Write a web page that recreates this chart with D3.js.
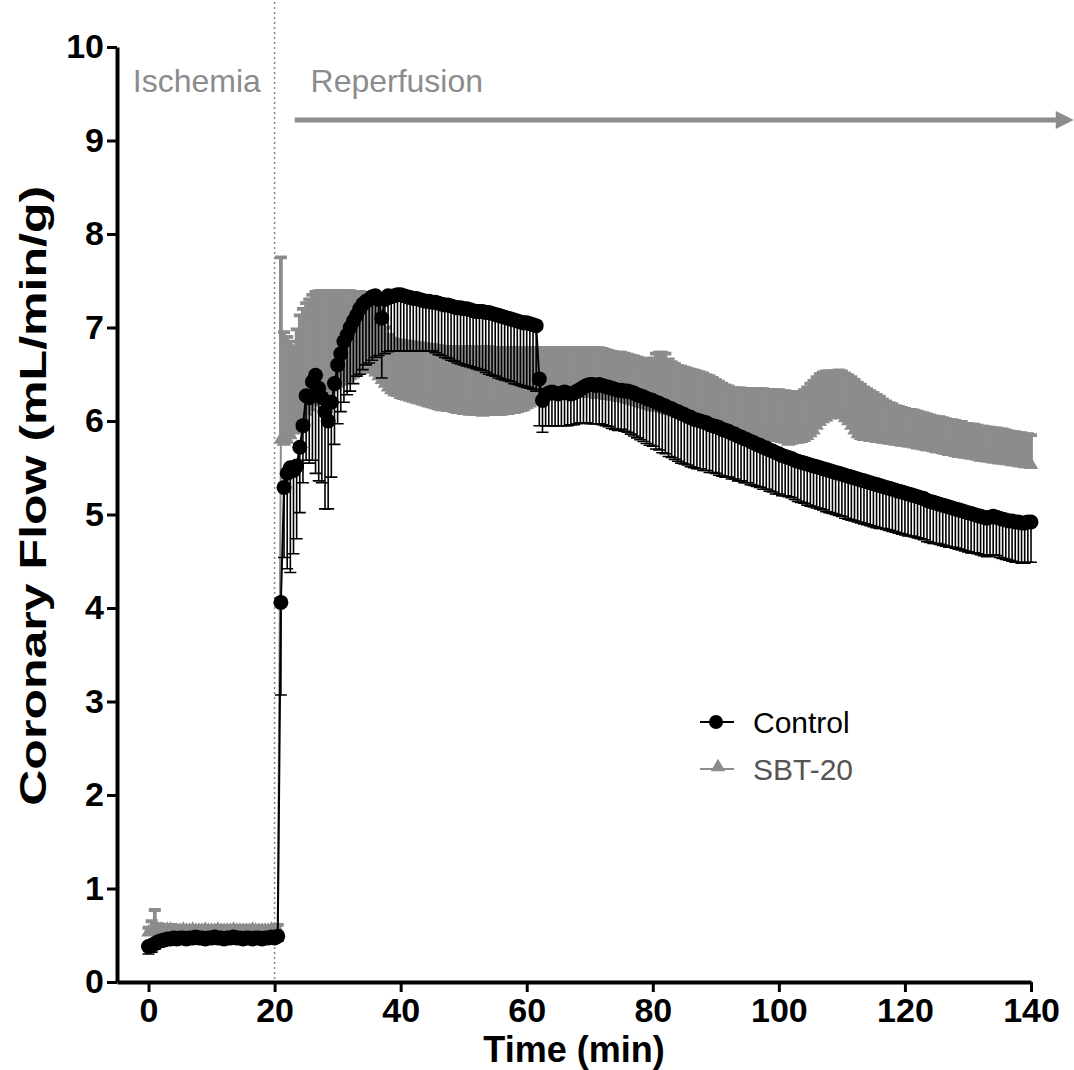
<!DOCTYPE html>
<html>
<head>
<meta charset="utf-8">
<script src="https://cdn.jsdelivr.net/npm/d3@7"></script>
<style>
  body { margin: 0; background: #fff; }
  svg { display: block; }
</style>
</head>
<body>
<svg id="chart" width="1074" height="1070"></svg>
<script>
// samples every 30 s, first one at t = 0
const T_START = 0;
const T_STEP = 0.5;

const xTicks = [0, 20, 40, 60, 80, 100, 120, 140];
const yTicks = [0, 1, 2, 3, 4, 5, 6, 7, 8, 9, 10];
const seriesNames = ['Control', 'SBT-20'];
const phaseLabels = ['Ischemia', 'Reperfusion'];
const reperfusionStart = 20;

// Control: mean and SEM (bars drawn downwards)
const ctrlMean = [
  0.38, 0.39, 0.41, 0.43, 0.44, 0.45, 0.46, 0.46, 0.47, 0.46,
  0.47, 0.47, 0.46, 0.47, 0.47, 0.48, 0.47, 0.47, 0.46, 0.47,
  0.47, 0.48, 0.47, 0.47, 0.46, 0.47, 0.47, 0.48, 0.47, 0.47,
  0.46, 0.47, 0.47, 0.46, 0.47, 0.47, 0.46, 0.47, 0.47, 0.48,
  0.47, 0.49, 4.06, 5.29, 5.44, 5.50, 5.47, 5.52, 5.72, 5.95,
  6.27, 6.25, 6.42, 6.49, 6.35, 6.25, 6.10, 6.00, 6.20, 6.40,
  6.60, 6.72, 6.85, 6.92, 7.00, 7.07, 7.13, 7.20, 7.25, 7.28,
  7.30, 7.33, 7.34, 7.30, 7.10, 7.30, 7.34, 7.33, 7.34, 7.35,
  7.35, 7.34, 7.33, 7.32, 7.31, 7.31, 7.30, 7.29, 7.28, 7.28,
  7.27, 7.27, 7.26, 7.25, 7.24, 7.24, 7.23, 7.22, 7.21, 7.21,
  7.20, 7.20, 7.19, 7.18, 7.17, 7.17, 7.17, 7.16, 7.16, 7.15,
  7.14, 7.13, 7.12, 7.11, 7.10, 7.09, 7.08, 7.07, 7.06, 7.05,
  7.05, 7.04, 7.03, 7.02, 6.45, 6.22, 6.28, 6.30, 6.31, 6.30,
  6.29, 6.30, 6.31, 6.30, 6.29, 6.30, 6.32, 6.34, 6.36, 6.38,
  6.39, 6.39, 6.38, 6.39, 6.38, 6.37, 6.36, 6.35, 6.34, 6.33,
  6.33, 6.32, 6.32, 6.31, 6.30, 6.28, 6.27, 6.26, 6.24, 6.23,
  6.22, 6.20, 6.19, 6.17, 6.16, 6.14, 6.13, 6.11, 6.10, 6.08,
  6.07, 6.05, 6.04, 6.02, 6.01, 6.00, 5.99, 5.98, 5.96, 5.95,
  5.94, 5.93, 5.91, 5.90, 5.89, 5.87, 5.86, 5.84, 5.83, 5.81,
  5.80, 5.78, 5.77, 5.75, 5.74, 5.72, 5.71, 5.69, 5.68, 5.66,
  5.65, 5.63, 5.62, 5.61, 5.60, 5.58, 5.57, 5.56, 5.55, 5.54,
  5.53, 5.52, 5.51, 5.50, 5.49, 5.48, 5.47, 5.46, 5.45, 5.44,
  5.43, 5.42, 5.41, 5.40, 5.39, 5.38, 5.37, 5.36, 5.35, 5.34,
  5.33, 5.32, 5.31, 5.30, 5.29, 5.28, 5.27, 5.26, 5.25, 5.24,
  5.23, 5.22, 5.21, 5.20, 5.19, 5.18, 5.17, 5.15, 5.14, 5.13,
  5.12, 5.11, 5.10, 5.09, 5.08, 5.07, 5.06, 5.05, 5.04, 5.03,
  5.02, 5.01, 5.00, 4.99, 4.98, 4.97, 4.96, 4.97, 4.98, 4.97,
  4.96, 4.95, 4.94, 4.93, 4.93, 4.92, 4.92, 4.91, 4.91, 4.92,
  4.92
];
const ctrlSem = [
  0.08, 0.07, 0.06, 0.05, 0.05, 0.04, 0.04, 0.04, 0.04, 0.04,
  0.04, 0.04, 0.04, 0.04, 0.04, 0.04, 0.04, 0.04, 0.04, 0.04,
  0.04, 0.04, 0.04, 0.04, 0.04, 0.04, 0.04, 0.04, 0.04, 0.04,
  0.04, 0.04, 0.04, 0.04, 0.04, 0.04, 0.04, 0.04, 0.04, 0.04,
  0.04, 0.05, 0.99, 0.75, 1.02, 1.12, 0.89, 0.78, 0.70, 0.61,
  0.69, 0.70, 0.84, 1.05, 0.99, 0.91, 1.04, 0.94, 0.80, 0.65,
  0.63, 0.62, 0.65, 0.64, 0.68, 0.67, 0.65, 0.70, 0.70, 0.68,
  0.68, 0.68, 0.66, 0.60, 0.64, 0.58, 0.60, 0.58, 0.59, 0.60,
  0.60, 0.59, 0.58, 0.57, 0.56, 0.56, 0.55, 0.54, 0.53, 0.53,
  0.52, 0.54, 0.55, 0.55, 0.56, 0.57, 0.58, 0.58, 0.59, 0.60,
  0.60, 0.61, 0.61, 0.61, 0.61, 0.62, 0.63, 0.64, 0.66, 0.66,
  0.66, 0.67, 0.67, 0.67, 0.67, 0.67, 0.68, 0.68, 0.68, 0.68,
  0.69, 0.69, 0.69, 0.70, 0.50, 0.34, 0.33, 0.35, 0.36, 0.35,
  0.34, 0.35, 0.36, 0.35, 0.33, 0.34, 0.35, 0.36, 0.38, 0.40,
  0.42, 0.42, 0.41, 0.42, 0.42, 0.42, 0.42, 0.43, 0.43, 0.43,
  0.42, 0.43, 0.44, 0.45, 0.46, 0.46, 0.47, 0.48, 0.48, 0.49,
  0.49, 0.50, 0.50, 0.51, 0.51, 0.52, 0.52, 0.52, 0.53, 0.53,
  0.53, 0.52, 0.53, 0.52, 0.52, 0.51, 0.52, 0.51, 0.51, 0.50,
  0.50, 0.51, 0.50, 0.50, 0.49, 0.49, 0.48, 0.48, 0.47, 0.47,
  0.46, 0.46, 0.46, 0.45, 0.45, 0.45, 0.44, 0.44, 0.44, 0.44,
  0.43, 0.43, 0.42, 0.42, 0.42, 0.42, 0.43, 0.43, 0.43, 0.44,
  0.44, 0.44, 0.44, 0.44, 0.44, 0.45, 0.45, 0.45, 0.45, 0.45,
  0.45, 0.46, 0.46, 0.46, 0.46, 0.46, 0.46, 0.46, 0.46, 0.46,
  0.46, 0.46, 0.46, 0.45, 0.45, 0.45, 0.45, 0.45, 0.45, 0.45,
  0.45, 0.45, 0.44, 0.44, 0.44, 0.44, 0.44, 0.44, 0.44, 0.44,
  0.43, 0.43, 0.43, 0.43, 0.43, 0.42, 0.42, 0.42, 0.42, 0.42,
  0.42, 0.42, 0.41, 0.41, 0.41, 0.41, 0.41, 0.41, 0.41, 0.41,
  0.42, 0.42, 0.42, 0.42, 0.43, 0.43, 0.43, 0.43, 0.43, 0.43,
  0.43
];

// SBT-20: mean and SEM (bars drawn upwards)
const sbtMean = [
  0.53, 0.55, 0.57, 0.56, 0.56, 0.55, 0.56, 0.56, 0.55, 0.55,
  0.55, 0.56, 0.55, 0.55, 0.56, 0.55, 0.55, 0.55, 0.56, 0.55,
  0.55, 0.55, 0.56, 0.55, 0.55, 0.55, 0.55, 0.56, 0.55, 0.55,
  0.55, 0.55, 0.55, 0.56, 0.55, 0.55, 0.55, 0.55, 0.55, 0.56,
  0.55, 0.56, 5.80, 5.78, 5.80, 5.85, 5.90, 5.95, 6.00, 6.05,
  6.10, 6.15, 6.20, 6.25, 6.28, 6.30, 6.32, 6.34, 6.36, 6.38,
  6.40, 6.42, 6.44, 6.46, 6.48, 6.50, 6.52, 6.54, 6.55, 6.56,
  6.56, 6.55, 6.52, 6.48, 6.44, 6.40, 6.36, 6.33, 6.31, 6.30,
  6.28, 6.27, 6.26, 6.25, 6.24, 6.23, 6.22, 6.21, 6.20, 6.19,
  6.18, 6.17, 6.16, 6.15, 6.15, 6.14, 6.14, 6.13, 6.12, 6.12,
  6.11, 6.11, 6.10, 6.10, 6.10, 6.10, 6.09, 6.10, 6.10, 6.10,
  6.10, 6.10, 6.10, 6.11, 6.11, 6.12, 6.12, 6.13, 6.14, 6.15,
  6.17, 6.19, 6.21, 6.23, 6.24, 6.25, 6.26, 6.26, 6.27, 6.27,
  6.27, 6.28, 6.28, 6.28, 6.29, 6.29, 6.29, 6.29, 6.29, 6.29,
  6.29, 6.29, 6.28, 6.28, 6.28, 6.27, 6.27, 6.26, 6.26, 6.25,
  6.25, 6.24, 6.23, 6.22, 6.21, 6.20, 6.19, 6.18, 6.17, 6.16,
  6.15, 6.14, 6.14, 6.13, 6.12, 6.11, 6.11, 6.10, 6.09, 6.08,
  6.07, 6.06, 6.05, 6.04, 6.03, 6.02, 6.01, 6.00, 5.99, 5.98,
  5.97, 5.96, 5.95, 5.94, 5.93, 5.92, 5.91, 5.90, 5.89, 5.88,
  5.88, 5.87, 5.86, 5.85, 5.84, 5.84, 5.83, 5.83, 5.82, 5.82,
  5.82, 5.81, 5.80, 5.78, 5.79, 5.80, 5.80, 5.81, 5.82, 5.84,
  5.87, 5.90, 5.95, 5.99, 6.02, 6.04, 6.06, 6.07, 6.07, 6.07,
  6.06, 6.03, 6.00, 5.95, 5.90, 5.86, 5.84, 5.83, 5.83, 5.82,
  5.82, 5.81, 5.81, 5.80, 5.80, 5.79, 5.79, 5.78, 5.78, 5.77,
  5.77, 5.76, 5.76, 5.75, 5.74, 5.74, 5.73, 5.72, 5.72, 5.71,
  5.70, 5.70, 5.69, 5.68, 5.67, 5.67, 5.66, 5.65, 5.65, 5.64,
  5.64, 5.63, 5.63, 5.62, 5.61, 5.61, 5.60, 5.60, 5.59, 5.59,
  5.58, 5.58, 5.57, 5.57, 5.56, 5.56, 5.55, 5.55, 5.54, 5.54,
  5.53
];
const sbtSem = [
  0.05, 0.10, 0.20, 0.06, 0.05, 0.05, 0.04, 0.05, 0.05, 0.05,
  0.05, 0.04, 0.05, 0.05, 0.04, 0.05, 0.05, 0.05, 0.04, 0.05,
  0.05, 0.05, 0.04, 0.05, 0.05, 0.05, 0.05, 0.04, 0.05, 0.05,
  0.05, 0.05, 0.05, 0.04, 0.05, 0.05, 0.05, 0.05, 0.05, 0.04,
  0.05, 0.05, 1.95, 1.17, 1.10, 1.00, 0.90, 1.03, 1.13, 1.15,
  1.16, 1.15, 1.15, 1.13, 1.11, 1.09, 1.07, 1.05, 1.03, 1.01,
  0.99, 0.97, 0.95, 0.93, 0.91, 0.88, 0.86, 0.84, 0.82, 0.80,
  0.78, 0.76, 0.76, 0.72, 0.66, 0.60, 0.56, 0.55, 0.56, 0.56,
  0.58, 0.58, 0.59, 0.59, 0.60, 0.60, 0.61, 0.61, 0.62, 0.62,
  0.63, 0.63, 0.64, 0.64, 0.64, 0.65, 0.65, 0.66, 0.67, 0.67,
  0.68, 0.68, 0.69, 0.69, 0.69, 0.69, 0.70, 0.69, 0.69, 0.68,
  0.68, 0.68, 0.68, 0.67, 0.67, 0.66, 0.66, 0.65, 0.64, 0.63,
  0.61, 0.59, 0.57, 0.55, 0.54, 0.53, 0.52, 0.52, 0.51, 0.51,
  0.51, 0.50, 0.50, 0.50, 0.49, 0.49, 0.49, 0.49, 0.49, 0.49,
  0.49, 0.49, 0.50, 0.50, 0.49, 0.49, 0.48, 0.48, 0.47, 0.48,
  0.48, 0.48, 0.48, 0.48, 0.48, 0.48, 0.48, 0.48, 0.48, 0.49,
  0.52, 0.58, 0.59, 0.60, 0.60, 0.55, 0.52, 0.51, 0.50, 0.50,
  0.50, 0.50, 0.50, 0.50, 0.50, 0.50, 0.50, 0.49, 0.49, 0.48,
  0.47, 0.46, 0.45, 0.44, 0.44, 0.43, 0.44, 0.45, 0.46, 0.46,
  0.46, 0.47, 0.48, 0.49, 0.50, 0.50, 0.50, 0.50, 0.51, 0.51,
  0.51, 0.51, 0.52, 0.53, 0.52, 0.50, 0.50, 0.50, 0.51, 0.52,
  0.53, 0.53, 0.52, 0.51, 0.50, 0.49, 0.47, 0.46, 0.46, 0.47,
  0.47, 0.48, 0.49, 0.52, 0.54, 0.55, 0.55, 0.53, 0.51, 0.50,
  0.48, 0.47, 0.45, 0.43, 0.41, 0.40, 0.39, 0.38, 0.37, 0.37,
  0.36, 0.36, 0.36, 0.36, 0.36, 0.35, 0.35, 0.35, 0.34, 0.34,
  0.34, 0.34, 0.34, 0.34, 0.34, 0.34, 0.34, 0.34, 0.34, 0.33,
  0.33, 0.33, 0.33, 0.33, 0.33, 0.33, 0.33, 0.33, 0.33, 0.33,
  0.33, 0.33, 0.33, 0.32, 0.32, 0.32, 0.32, 0.32, 0.32, 0.32,
  0.32
];

const GREY = '#8c8c8c';
const FONT = '"Liberation Sans", Arial, sans-serif';

const svg = d3.select('#chart');
svg.append('rect').attr('width', 1074).attr('height', 1070).attr('fill', '#fff');

const x = d3.scaleLinear().domain([-5, 140]).range([117, 1031]);
const y = d3.scaleLinear().domain([0, 10]).range([982, 47]);

const toPoints = (means, sems) =>
  means.map((m, i) => ({ t: T_START + i * T_STEP, m, e: sems[i] }));

const ctrl = toPoints(ctrlMean, ctrlSem);
const sbt = toPoints(sbtMean, sbtSem);

// error bar: stem from mean to mean +/- sem, with a cap
const capW = 6;
const barPath = dir => d => {
  const x0 = x(d.t);
  const y0 = y(d.m);
  const y1 = y(d.m + dir * d.e);
  return `M${x0},${y0}V${y1}M${x0 - capW},${y1}H${x0 + capW}`;
};

const line = d3.line().x(d => x(d.t)).y(d => y(d.m));

// reperfusion marker
svg.append('line')
  .attr('x1', x(reperfusionStart))
  .attr('x2', x(reperfusionStart))
  .attr('y1', 2)
  .attr('y2', y(0))
  .attr('stroke', '#888')
  .attr('stroke-width', 1.5)
  .attr('stroke-dasharray', '2,3');

// SBT-20 (drawn first, sits behind control)
const gSbt = svg.append('g');
gSbt.selectAll('path.err')
  .data(sbt)
  .enter()
  .append('path')
  .attr('class', 'err')
  .attr('d', barPath(1))
  .attr('fill', 'none')
  .attr('stroke', GREY)
  .attr('stroke-width', 3.8);
gSbt.append('path')
  .datum(sbt)
  .attr('d', line)
  .attr('fill', 'none')
  .attr('stroke', GREY)
  .attr('stroke-width', 2);
gSbt.selectAll('path.tri')
  .data(sbt)
  .enter()
  .append('path')
  .attr('class', 'tri')
  .attr('d', d3.symbol(d3.symbolTriangle).size(90))
  .attr('transform', d => `translate(${x(d.t)},${y(d.m)})`)
  .attr('fill', GREY);

// Control
const gCtrl = svg.append('g');
gCtrl.selectAll('path.err')
  .data(ctrl)
  .enter()
  .append('path')
  .attr('class', 'err')
  .attr('d', barPath(-1))
  .attr('fill', 'none')
  .attr('stroke', '#000')
  .attr('stroke-width', 1.6);
gCtrl.append('path')
  .datum(ctrl)
  .attr('d', line)
  .attr('fill', 'none')
  .attr('stroke', '#000')
  .attr('stroke-width', 2);
gCtrl.selectAll('circle')
  .data(ctrl)
  .enter()
  .append('circle')
  .attr('cx', d => x(d.t))
  .attr('cy', d => y(d.m))
  .attr('r', 7.5)
  .attr('fill', '#000');

// axes
const yAxis = svg.append('g')
  .attr('transform', `translate(${x(-5)},0)`)
  .call(d3.axisLeft(y).tickValues(yTicks).tickSize(10).tickSizeOuter(0).tickPadding(3));
const xAxis = svg.append('g')
  .attr('transform', `translate(0,${y(0)})`)
  .call(d3.axisBottom(x).tickValues(xTicks).tickSize(10).tickSizeOuter(0).tickPadding(6));

[yAxis, xAxis].forEach(ax => {
  ax.select('.domain').attr('stroke', '#000').attr('stroke-width', 4);
  ax.selectAll('.tick line').attr('stroke', '#000').attr('stroke-width', 3);
  ax.selectAll('.tick text')
    .attr('fill', '#000')
    .style('font-family', FONT)
    .style('font-weight', 'bold')
    .style('font-size', '34px');
});

svg.append('text')
  .attr('x', (x(-5) + x(140)) / 2)
  .attr('y', 1062)
  .attr('text-anchor', 'middle')
  .style('font-family', FONT)
  .style('font-weight', 'bold')
  .style('font-size', '36px')
  .text('Time (min)');

svg.append('text')
  .attr('transform', `translate(46,${y(5.2)}) rotate(-90)`)
  .attr('text-anchor', 'middle')
  .style('font-family', FONT)
  .style('font-weight', 'bold')
  .style('font-size', '36px')
  .attr('textLength', 620)
  .attr('lengthAdjust', 'spacingAndGlyphs')
  .text('Coronary Flow (mL/min/g)');

// phase labels
svg.append('text')
  .attr('x', x(-2.5))
  .attr('y', y(9.52))
  .attr('fill', GREY)
  .style('font-family', FONT)
  .style('font-size', '32px')
  .text(phaseLabels[0]);
svg.append('text')
  .attr('x', x(25.7))
  .attr('y', y(9.52))
  .attr('fill', GREY)
  .style('font-family', FONT)
  .style('font-size', '32px')
  .text(phaseLabels[1]);

// reperfusion arrow
svg.append('defs')
  .append('marker')
  .attr('id', 'arrow')
  .attr('viewBox', '0 0 10 10')
  .attr('refX', 2)
  .attr('refY', 5)
  .attr('markerWidth', 4.5)
  .attr('markerHeight', 3.6)
  .attr('orient', 'auto')
  .append('path')
  .attr('d', 'M0,0L10,5L0,10Z')
  .attr('fill', GREY);
svg.append('line')
  .attr('x1', x(23.2))
  .attr('x2', x(144.5))
  .attr('y1', y(9.22))
  .attr('y2', y(9.22))
  .attr('stroke', GREY)
  .attr('stroke-width', 5)
  .attr('marker-end', 'url(#arrow)');

// legend
const legend = svg.append('g').attr('transform', 'translate(700,722)');
const legendRow = legend.selectAll('g')
  .data(seriesNames)
  .enter()
  .append('g')
  .attr('transform', (d, i) => `translate(0,${i * 47})`);
legendRow.append('line')
  .attr('x1', 0)
  .attr('x2', 34)
  .attr('stroke', (d, i) => (i ? GREY : '#000'))
  .attr('stroke-width', 2);
legendRow.filter((d, i) => i === 0)
  .append('circle')
  .attr('cx', 16)
  .attr('r', 7)
  .attr('fill', '#000');
legendRow.filter((d, i) => i === 1)
  .append('path')
  .attr('d', d3.symbol(d3.symbolTriangle).size(90))
  .attr('transform', 'translate(18,-2)')
  .attr('fill', GREY);
legendRow.append('text')
  .attr('x', 53)
  .attr('dy', '0.35em')
  .attr('fill', (d, i) => (i ? '#555' : '#000'))
  .style('font-family', FONT)
  .style('font-size', '30px')
  .text(d => d);
</script>
</body>
</html>
